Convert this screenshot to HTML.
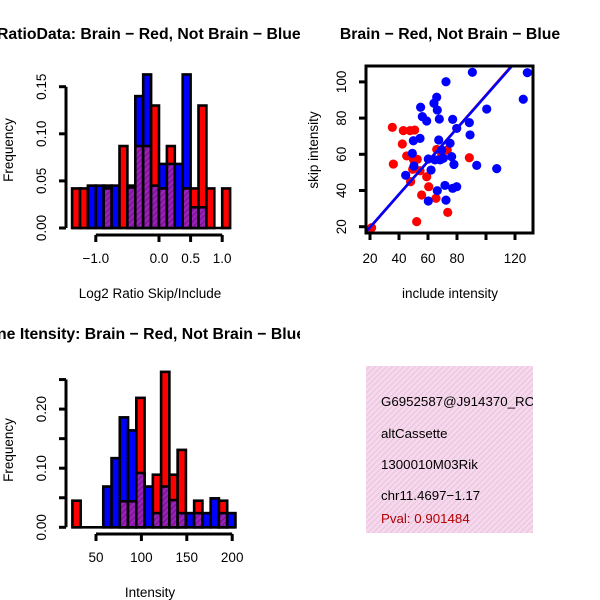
<!DOCTYPE html>
<html><head><meta charset="utf-8"><style>
html,body{margin:0;padding:0;background:#fff;}
svg{display:block;font-family:"Liberation Sans",sans-serif;}
</style></head><body>
<svg id="s" width="600" height="600" viewBox="0 0 600 600">
<defs>
<pattern id="hatch" patternUnits="userSpaceOnUse" width="4" height="4" patternTransform="rotate(45)">
<rect width="4" height="4" fill="#a020c0"/><rect width="2" height="4" fill="#80189a"/></pattern>
<pattern id="pinkhatch" patternUnits="userSpaceOnUse" width="4" height="4" patternTransform="rotate(45)">
<rect width="4" height="4" fill="#f8d8f0"/><rect width="1.3" height="4" fill="#e8c8d8"/></pattern>
<clipPath id="c1"><rect x="0" y="0" width="300" height="300"/></clipPath>
<clipPath id="c3"><rect x="0" y="300" width="300" height="300"/></clipPath>
<clipPath id="cs"><rect x="366" y="66" width="167" height="167"/></clipPath>
<clipPath id="cb"><rect x="366" y="366" width="167" height="167"/></clipPath>
</defs>
<g id="p1"></g>
<g id="p2"></g>
<g id="p3"></g>
<g>
<rect x="366" y="366" width="167" height="167" fill="url(#pinkhatch)"/>
<g clip-path="url(#cb)" font-size="13.3">
<text x="381" y="406">G6952587@J914370_RC</text>
<text x="381" y="438">altCassette</text>
<text x="381" y="469">1300010M03Rik</text>
<text x="381" y="500">chr11.4697−1.17</text>
<text x="381" y="523" fill="#b00000">Pval: 0.901484</text>
</g></g>
</svg>
<script>
// ---- Histogram 1 data (Log2 ratio) ----
const h1Start = -1.375;
const h1Width = 0.125;
const h1Red  = [0.042,0.042,0,0,0.042,0,0.087,0.043,0.087,0.087,0.13,0.042,0.087,0,0.042,0.042,0.13,0.042,0,0.042];
const h1Blue = [0,0,0.045,0.045,0.045,0.045,0,0.045,0.14,0.163,0.045,0.068,0.068,0.068,0.163,0.022,0.022,0,0,0];
const h1XTicks = [-1.0,0.0,0.5,1.0];
const h1XTickLabels = ["−1.0","0.0","0.5","1.0"];
const h1YTicks = [0,0.05,0.10,0.15];
const h1YTickLabels = ["0.00","0.05","0.10","0.15"];
// ---- Histogram 2 data (Intensity) ----
const h2Edges = [24,58,67.1,76.2,85.3,94.4,103.5,112.6,121.7,130.8,139.9,149,158.1,167.2,176.3,185.4];
const h2Width = 9.1;
const h2Red  = [0.045,0,0,0.044,0.044,0.219,0,0.089,0.263,0.089,0.131,0,0.045,0,0,0.045,0];
const h2Blue = [0,0.069,0.117,0.186,0.164,0.092,0.069,0.024,0.069,0.046,0.024,0.024,0.024,0.024,0.049,0.024,0.024];
const h2XTicks = [50,100,150,200];
const h2XTickLabels = ["50","100","150","200"];
const h2YTicks = [0,0.05,0.10,0.15,0.20,0.25];
const h2YTickLabels = ["0.00","","0.10","","0.20",""];
// ---- Scatter data ----
const blueX = [90.6,128.5,72.4,125.7,66.0,64.1,54.9,66.4,56.1,59.1,67.8,77.0,100.5,88.5,79.8,89.0,54.5,49.9,67.4,75.2,49.2,60.2,68.3,76.3,70.6,77.9,93.6,107.4,50.3,62.1,44.6,66.4,71.7,79.8,77.0,60.2,72.4,69.4,64.8];
const blueY = [105.3,105.1,100.1,90.4,91.5,88.2,86.0,84.5,80.8,78.4,79.5,79.3,85.0,77.5,74.3,70.7,68.8,67.5,67.9,66.1,60.5,57.4,56.9,58.7,57.8,54.4,53.9,52.1,53.5,51.3,48.4,39.9,42.8,42.1,41.2,34.2,34.7,62.4,56.9];
const redX = [35.4,43.0,47.6,50.8,42.3,45.3,49.9,52.6,36.1,49.4,54.5,59.1,48.0,60.5,55.6,65.5,73.6,52.2,66.0,73.3,88.5,21.1,69.4];
const redY = [74.9,73.1,73.1,73.4,65.7,59.1,57.2,57.2,54.6,51.7,50.9,47.6,44.9,42.1,37.5,35.7,27.9,22.8,62.7,62.4,58.1,19.4,59.6];
const fitIntercept = [1.2, 1.5];   // red, blue
const fitSlope = [0.915, 0.91];
const scXTicks = [20,40,60,80,100,120];
const scXTickLabels = ["20","40","60","80","","120"];
const scYTicks = [20,40,60,80,100];
const scYTickLabels = ["20","40","60","80","100"];

const FS=13.5;
const NS="http://www.w3.org/2000/svg";
function mk(parent,tag,attrs,text){const e=document.createElementNS(NS,tag);for(const k in attrs)e.setAttribute(k,attrs[k]);if(text!==undefined)e.textContent=text;parent.appendChild(e);return e;}

function histogram(g,clip,x,y,edges,width,red,blue,xt,xtl,yt,ytl,axisY,yAxisX,xAxisRange,title,titleY,xlab,xlabY,ylabY){
  const gc=mk(g,'g',{'clip-path':clip});
  const t=mk(gc,'text',{x:-3,y:titleY,'font-size':15.8,'font-weight':'bold'},title);
  
  
  const n=red.length;
  const base=mk(g,'line',{x1:x(edges(0)),x2:x(edges(n-1)+width),y1:y(0),y2:y(0),stroke:'#000','stroke-width':2.6});
  
  
  for(let i=0;i<n;i++){
    const x0=x(edges(i)),x1=x(edges(i)+width);
    const r=red[i],b=blue[i];
    const order=r>=b?[[r,'#ff0000','red'],[b,'#0000ff','blue']]:[[b,'#0000ff','blue'],[r,'#ff0000','red']];
    const hi=order[0];
    if(hi[0]>0){
      const e=mk(g,'rect',{x:x0,y:y(hi[0]),width:x1-x0,height:y(0)-y(hi[0]),fill:hi[1],stroke:'#000','stroke-width':2.6});
      
      
    }
    const lo=Math.min(r,b);
    if(lo>0){
      const e=mk(g,'rect',{x:x0,y:y(lo),width:x1-x0,height:y(0)-y(lo),fill:'url(#hatch)',stroke:'#000','stroke-width':2.6});
      
      
    }
  }
  const xa=mk(g,'g',{});
  
  
  mk(xa,'line',{x1:x(xAxisRange[0]),x2:x(xAxisRange[1]),y1:axisY,y2:axisY,stroke:'#000','stroke-width':3});
  xt.forEach((v,i)=>{mk(xa,'line',{x1:x(v),x2:x(v),y1:axisY,y2:axisY+7,stroke:'#000','stroke-width':3});
    mk(xa,'text',{x:x(v),y:axisY+28,'font-size':FS,'text-anchor':'middle'},xtl[i]);});
  const ya=mk(g,'g',{});
  
  
  mk(ya,'line',{x1:yAxisX,x2:yAxisX,y1:y(yt[0]),y2:y(yt[yt.length-1]),stroke:'#000','stroke-width':3});
  yt.forEach((v,i)=>{mk(ya,'line',{x1:yAxisX,x2:yAxisX-7,y1:y(v),y2:y(v),stroke:'#000','stroke-width':3});
    if(ytl[i])mk(ya,'text',{x:yAxisX-20,y:y(v),'font-size':FS,'text-anchor':'middle',transform:`rotate(-90 ${yAxisX-20} ${y(v)})`},ytl[i]);});
  const xl=mk(g,'text',{x:150,y:xlabY,'font-size':FS,'text-anchor':'middle'},xlab);
  
  
  const yl=mk(g,'text',{x:13,y:ylabY,'font-size':FS,'text-anchor':'middle',transform:`rotate(-90 13 ${ylabY})`},'Frequency');
  
  
}

{
  const x=v=>159+v*63.2, y=v=>228-v*942;
  histogram(document.getElementById('p1'),'url(#c1)',x,y,i=>h1Start+i*h1Width,h1Width,h1Red,h1Blue,
    h1XTicks,h1XTickLabels,h1YTicks,h1YTickLabels,235,66,[-1.0,1.0],
    'RatioData: Brain − Red, Not Brain − Blue',39,'Log2 Ratio Skip/Include',298,150);
}
{
  const x=v=>96+(v-50)*0.908, y=v=>527.3-v*591;
  histogram(document.getElementById('p3'),'url(#c3)',x,y,i=>i===0?h2Edges[0]:h2Edges[1]+(i-1)*h2Width,h2Width,h2Red,h2Blue,
    h2XTicks,h2XTickLabels,h2YTicks,h2YTickLabels,534,66,[50,200],
    'ne Itensity: Brain − Red, Not Brain − Blue',339,'Intensity',597,450);
}
{
  const g=document.getElementById('p2');
  const x=v=>370+(v-20)*1.45, y=v=>226.7-(v-20)*1.81;
  const t=mk(g,'text',{x:450,y:39,'font-size':15.8,'font-weight':'bold','text-anchor':'middle'},'Brain − Red, Not Brain − Blue');
  
  
  const pts=mk(g,'g',{'clip-path':'url(#cs)'});
  redX.forEach((v,i)=>{const c=mk(pts,'circle',{cx:x(v),cy:y(redY[i]),r:4.6,fill:'#ff0000'});
    
    });
  blueX.forEach((v,i)=>{const c=mk(pts,'circle',{cx:x(v),cy:y(blueY[i]),r:4.6,fill:'#0000ff'});
    
    });
  ['#ff0000','#0000ff'].forEach((col,k)=>{
    const x0=10,x1=140;
    const l=mk(pts,'line',{x1:x(x0),y1:y(fitIntercept[k]+fitSlope[k]*x0),x2:x(x1),y2:y(fitIntercept[k]+fitSlope[k]*x1),stroke:col,'stroke-width':2.6});
    
    
  });
  const box=mk(g,'rect',{x:366,y:66,width:167,height:167,fill:'none',stroke:'#000','stroke-width':3});
  
  
  scXTicks.forEach((v,i)=>{mk(g,'line',{x1:x(v),x2:x(v),y1:233,y2:240,stroke:'#000','stroke-width':3});
    if(scXTickLabels[i])mk(g,'text',{x:x(v),y:263,'font-size':FS,'text-anchor':'middle'},scXTickLabels[i]);});
  scYTicks.forEach((v,i)=>{mk(g,'line',{x1:366,x2:359,y1:y(v),y2:y(v),stroke:'#000','stroke-width':3});
    mk(g,'text',{x:346,y:y(v),'font-size':FS,'text-anchor':'middle',transform:`rotate(-90 346 ${y(v)})`},scYTickLabels[i]);});
  const xl=mk(g,'text',{x:450,y:298,'font-size':FS,'text-anchor':'middle'},'include intensity');
  
  
  const yl=mk(g,'text',{x:318,y:150,'font-size':FS,'text-anchor':'middle',transform:'rotate(-90 318 150)'},'skip intensity');
  
  
}
</script>
</body></html>
